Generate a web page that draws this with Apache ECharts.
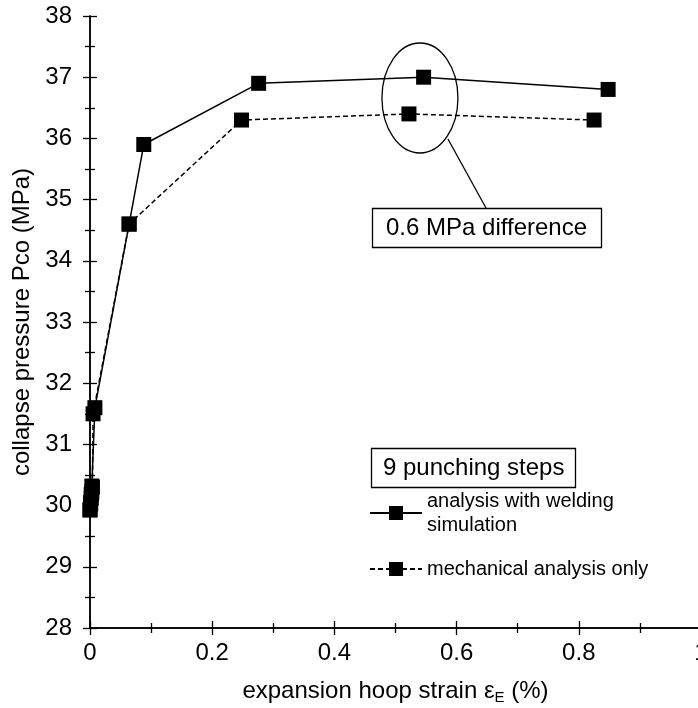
<!DOCTYPE html>
<html><head><meta charset="utf-8">
<script src="https://cdn.jsdelivr.net/npm/echarts@6/dist/echarts.min.js"></script>
<style>html,body{margin:0;padding:0;background:#fff}#c{width:698px;height:708px}</style>
</head><body><div id="c"></div>
<script>
// ---- data ----
const weldName = 'analysis with welding simulation';
const mechName = 'mechanical analysis only';
const weldX = [0, 0.001, 0.002, 0.003, 0.008, 0.064, 0.088, 0.276, 0.546, 0.848];
const weldY = [29.93, 30.05, 30.18, 30.32, 31.6, 34.6, 35.9, 36.9, 37.0, 36.8];
const mechX = [0, 0.001, 0.002, 0.003, 0.004, 0.005, 0.064, 0.248, 0.522, 0.825];
const mechY = [29.93, 30.02, 30.12, 30.22, 30.3, 31.5, 34.6, 36.3, 36.4, 36.3];
const xRange = [0, 1, 0.2];     // min, max, interval
const yRange = [28, 38, 1];
const xTitle = 'expansion hoop strain ε{sub|E} (%)';
const yTitle = 'collapse pressure Pco (MPa)';
const noteDiff = '0.6 MPa difference';
const noteSteps = '9 punching steps';
const ellipseCenter = [0.54, 36.66];

const FONT = '"Liberation Sans", Arial, sans-serif';
const chart = echarts.init(document.getElementById('c'));

const baseAxis = (r, grid, inside) => ({
  type: 'value', min: r[0], max: r[1], interval: r[2], gridIndex: grid,
  splitLine: {show: false},
  axisLine: {show: true, lineStyle: {color: '#000', width: 1.5}},
  minorTick: {show: true, splitNumber: 2, length: 5, lineStyle: {color: '#000', width: 1.3}},
  axisTick: {show: true, inside: inside, length: 7, lineStyle: {color: '#000', width: 1.3}}
});

const xMain = Object.assign(baseAxis(xRange, 0, false), {
  position: 'bottom',
  axisLabel: {color: '#000', fontSize: 24, fontFamily: FONT, margin: 13},
  name: xTitle, nameLocation: 'middle', nameGap: 50,
  nameTextStyle: {color: '#000', fontSize: 24, fontFamily: FONT,
    rich: {sub: {fontSize: 15, verticalAlign: 'bottom', padding: [12, 0, 0, 0], fontFamily: FONT, color: '#000'}}}
});
const xInner = Object.assign(baseAxis(xRange, 1, true), {position: 'bottom', axisLabel: {show: false}});

const yMain = Object.assign(baseAxis(yRange, 0, false), {
  position: 'left',
  axisLabel: {color: '#000', fontSize: 24, fontFamily: FONT, margin: 18},
  name: yTitle, nameLocation: 'middle', nameGap: 54,
  nameTextStyle: {color: '#000', fontSize: 24, fontFamily: FONT}
});
const yInner = Object.assign(baseAxis(yRange, 1, true), {position: 'left', axisLabel: {show: false}});

const mk = (xs, ys) => xs.map((x, i) => [x, ys[i]]);
const gridBox = {left: 90, right: -3, top: 16, bottom: 80, containLabel: false, outerBoundsMode: 'none'};

chart.setOption({
  animation: false,
  backgroundColor: '#fff',
  grid: [Object.assign({}, gridBox), Object.assign({}, gridBox)],
  xAxis: [xMain, xInner],
  yAxis: [yMain, yInner],
  legend: [
    {data: [weldName], left: 369, top: 477, orient: 'vertical', padding: 0,
     itemWidth: 52, itemHeight: 17.5,
     formatter: () => 'analysis with welding\nsimulation',
     textStyle: {color: '#000', fontSize: 20, fontFamily: FONT, lineHeight: 24, padding: [24, 0, 0, 0]}},
    {data: [mechName], left: 369, top: 557, orient: 'vertical', padding: 0,
     itemWidth: 52, itemHeight: 17.5,
     textStyle: {color: '#000', fontSize: 20, fontFamily: FONT, lineHeight: 24}}
  ],
  title: [
    {text: noteDiff, left: 372, top: 208, padding: [7, 15, 7, 14], borderColor: '#000', borderWidth: 1.3,
     textStyle: {color: '#000', fontSize: 24, fontWeight: 'normal', fontFamily: FONT, lineHeight: 26}},
    {text: noteSteps, left: 371, top: 448, padding: [7, 11, 7, 12], borderColor: '#000', borderWidth: 1.3,
     textStyle: {color: '#000', fontSize: 24, fontWeight: 'normal', fontFamily: FONT, lineHeight: 26}}
  ],
  series: [
    {name: weldName, type: 'line', xAxisIndex: 0, yAxisIndex: 0, data: mk(weldX, weldY),
     symbol: 'rect', symbolSize: 15, showAllSymbol: true,
     lineStyle: {color: '#000', width: 1.5, type: 'solid'},
     itemStyle: {color: '#000'}},
    {name: mechName, type: 'line', xAxisIndex: 0, yAxisIndex: 0, data: mk(mechX, mechY),
     symbol: 'rect', symbolSize: 15, showAllSymbol: true,
     lineStyle: {color: '#000', width: 1.5, type: [5, 3]},
     itemStyle: {color: '#000'}}
  ]
});

const c = chart.convertToPixel({xAxisIndex: 0, yAxisIndex: 0}, ellipseCenter);
chart.setOption({
  graphic: [
    {type: 'ellipse', shape: {cx: c[0], cy: c[1], rx: 38, ry: 55},
     style: {fill: 'none', stroke: '#000', lineWidth: 1.3}, z: 10},
    {type: 'line', shape: {x1: c[0] + 28, y1: c[1] + 41, x2: 486, y2: 208},
     style: {stroke: '#000', lineWidth: 1.3}, z: 10}
  ]
});
</script></body></html>
